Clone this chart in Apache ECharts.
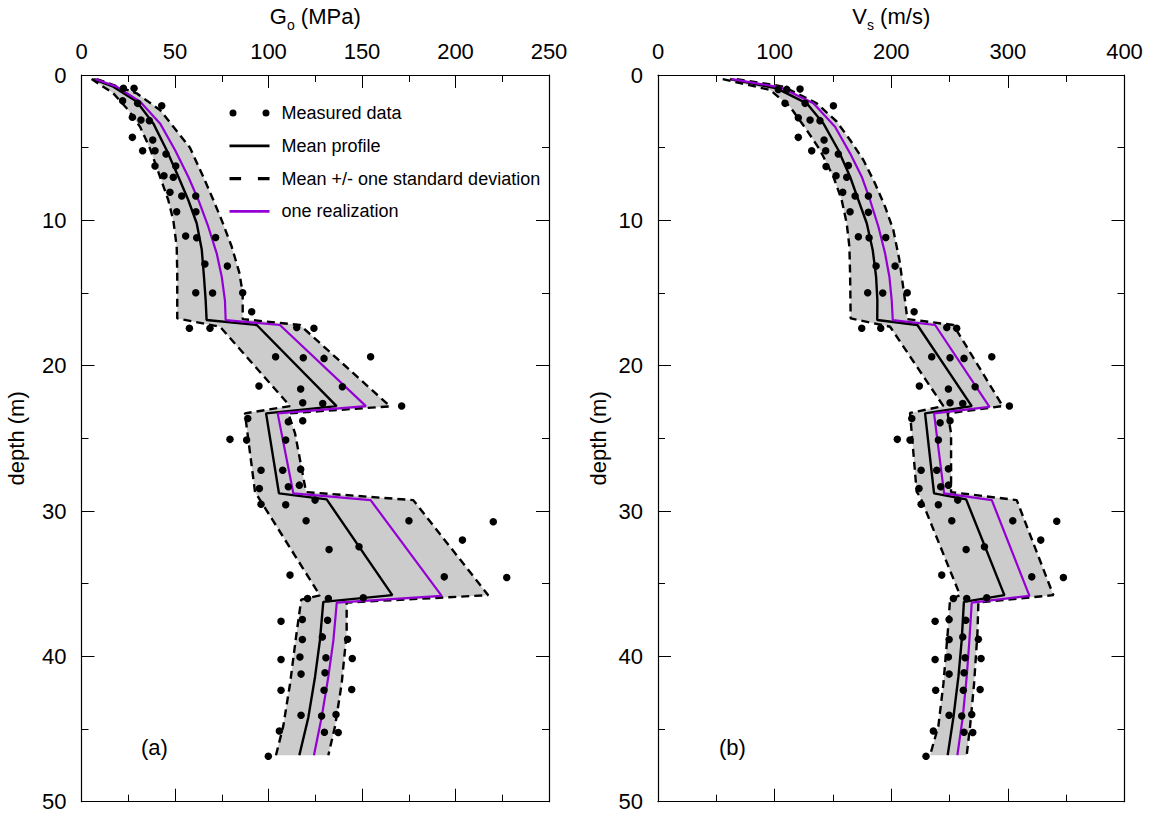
<!DOCTYPE html>
<html><head><meta charset="utf-8">
<script src="https://cdn.jsdelivr.net/npm/echarts@6/dist/echarts.min.js"></script>
<style>html,body{margin:0;padding:0;background:#fff}#c{width:1151px;height:814px}</style>
</head><body><div id="c"></div>
<script>
// ---------- Panel (a): G_o (MPa) vs depth (m) ----------
const goMean = [[6.3,0.28],[17.0,0.8],[29.5,1.83],[38.4,3.33],[45.5,5.16],[51.8,7.0],[57.1,8.6],[61.6,10.2],[64.3,12.0],[65.5,13.9],[66.4,15.5],[66.9,16.86],
  [93.7,17.2],[136.4,22.78],[98.7,23.28],[105.6,28.79],[131.1,29.2],[166.2,35.79],
  [129.3,36.25],[127.5,38.9],[124.9,41.4],[121.3,44.2],[116.5,46.8]];
const goRealization = [[7.2,0.28],[18.8,0.8],[31.3,1.83],[42.0,3.33],[50.0,5.16],[57.1,7.0],[62.5,8.6],[67.8,10.44],[72.3,12.27],[75.0,13.88],[76.7,15.5],[77.1,16.86],
  [106.1,17.2],[152.1,22.78],[104.9,23.28],[113.3,28.79],[154.6,29.25],[192.6,35.84],
  [136.5,36.3],[134.7,38.9],[132.0,41.4],[128.4,44.2],[124.3,46.8]];
const goLower = [[5.4,0.28],[17.0,1.26],[25.0,2.41],[31.3,3.56],[36.6,5.05],[42.0,7.0],[46.4,8.6],[49.1,10.0],[50.9,11.8],[51.2,13.6],[51.2,16.75],
  [74.1,17.32],[111.5,22.78],[87.4,23.28],[92.8,28.7],[93.3,28.8],[127.5,35.8],
  [117.5,36.1],[115.0,38.4],[111.5,41.9],[107.9,44.8],[104.0,46.8]];
const goUpper = [[8.1,0.28],[29.5,1.26],[42.0,2.41],[58.0,5.0],[65.1,7.0],[70.5,8.6],[75.0,10.0],[80.3,11.8],[84.4,13.6],[86.2,15.0],[86.2,16.8],
  [116.8,17.2],[165.0,22.8],[110.6,23.28],[114.2,24.66],[120.1,28.7],[177.4,29.25],[217.5,35.79],
  [141.8,36.3],[141.8,38.4],[139.1,41.9],[135.6,44.8],[132.0,46.8]];
const goMeasured = [[22.4,0.92],[28.1,0.92],[22.0,1.77],[30.0,1.95],[42.9,2.11],[27.2,2.91],[31.8,3.1],[36.3,3.14],[27.2,4.29],[38.1,4.47],
  [32.7,5.21],[39.3,5.21],[45.2,5.44],[39.3,6.26],[50.4,6.26],[44.1,6.93],[49.1,7.04],[47.3,8.07],[53.6,8.33],[61.1,8.33],
  [50.9,9.41],[61.2,9.41],[55.7,11.08],[61.6,11.2],[71.7,11.18],[66.0,13.0],[78.0,13.15],[61.1,14.98],[70.1,15.0],[86.2,14.98],[91.0,16.29],
  [57.7,17.43],[68.7,17.43],[115.1,17.37],[124.3,17.43],[103.8,19.39],[118.6,19.45],[129.7,19.5],[154.6,19.39],[94.9,21.4],[117.2,21.61],
  [139.5,21.45],[118.3,22.55],[129.0,22.6],[171.2,22.78],
  [88.9,23.63],[110.6,23.86],[118.3,23.79],[79.4,25.07],[88.3,25.12],[109.2,25.12],[96.0,27.19],[107.6,27.19],[117.2,27.12],[95.1,28.45],[110.6,28.33],[116.5,28.22],
  [96.0,29.53],[109.2,29.57],[124.9,29.25],[120.1,30.67],[175.1,30.67],[220.2,30.74],[203.7,32.0],[132.4,32.65],[148.4,32.46],[111.5,34.41],[194.0,34.53],[227.4,34.58],
  [120.9,36.02],[132.0,36.02],[150.7,35.97],
  [106.7,37.58],[118.1,37.46],[131.6,37.51],[118.1,38.84],[128.8,38.66],[142.3,38.82],[106.7,40.22],[116.8,40.04],[130.7,40.1],[144.8,40.15],
  [117.4,41.22],[130.2,41.13],[106.7,42.33],[129.7,42.33],[144.5,42.28],[117.4,44.05],[128.4,44.1],[136.1,44.0],[105.8,45.13],[129.9,45.22],[137.3,45.24],[99.9,46.87]];

// ---------- Panel (b): V_s (m/s) vs depth (m) ----------
const vsMean = [[61.7,0.28],[101.8,0.92],[127.5,1.95],[141.8,3.33],[154.6,5.16],[164.7,7.0],[171.8,8.6],[179.0,10.2],[184.1,12.04],[187.0,13.88],[188.1,15.5],[188.0,16.86],
  [222.4,17.2],[269.0,22.78],[229.0,23.28],[236.7,28.79],[264.2,29.2],[297.0,35.79],
  [262.3,36.25],[260.4,38.9],[257.6,41.4],[253.3,44.2],[248.4,46.8]];
const vsRealization = [[63.2,0.28],[104.7,0.85],[133.2,1.95],[151.8,3.56],[164.7,5.39],[174.7,7.0],[181.8,8.6],[189.0,10.44],[194.7,12.27],[198.4,13.88],[200.4,15.5],[201.3,16.86],
  [237.6,17.2],[284.2,22.83],[236.7,23.28],[245.3,28.79],[286.2,29.25],[318.5,35.84],
  [269.0,36.3],[267.0,38.9],[264.7,41.4],[261.3,44.2],[256.7,46.8]];
const vsLower = [[55.5,0.28],[96.1,1.03],[113.2,2.18],[127.5,3.79],[138.9,5.16],[150.4,7.0],[157.5,8.6],[161.8,10.2],[164.1,11.81],[164.7,13.65],[165.2,16.75],
  [199.0,17.32],[244.7,22.78],[216.1,23.25],[221.8,28.68],[224.7,29.0],[259.0,35.79],
  [250.4,36.1],[248.4,38.4],[244.7,41.9],[240.4,44.8],[233.3,46.8]];
const vsUpper = [[67.5,0.28],[107.5,0.8],[136.1,1.95],[153.2,3.2],[164.7,4.47],[176.1,5.85],[186.1,7.46],[194.7,9.06],[201.8,10.67],[207.0,12.73],[211.8,15.5],[213.8,16.8],
  [253.3,17.2],[295.6,22.78],[248.4,23.28],[251.3,24.66],[251.3,28.7],[307.6,29.25],[339.0,35.79],
  [274.7,36.3],[273.9,38.4],[271.0,41.9],[267.6,44.8],[264.7,46.8]];
const vsMeasured = [[103.2,0.99],[110.4,0.99],[121.8,0.96],[108.9,1.95],[126.1,1.95],[150.4,2.11],[120.3,2.94],[130.4,3.1],[138.9,3.14],[120.3,4.29],[142.4,4.47],
  [131.8,5.21],[143.8,5.21],[154.6,5.44],[144.1,6.3],[163.2,6.23],[152.7,6.93],[161.8,7.04],[158.4,8.07],[169.0,8.33],[180.4,8.33],
  [164.7,9.41],[180.4,9.45],[171.8,11.13],[181.0,11.2],[195.3,11.18],[187.0,13.15],[203.3,13.15],[179.8,14.98],[192.7,15.0],[213.7,14.98],[219.6,16.29],
  [174.7,17.43],[191.0,17.43],[247.6,17.37],[256.1,17.43],[234.7,19.39],[250.4,19.45],[262.4,19.5],[286.2,19.39],[224.1,21.4],[249.0,21.61],
  [271.9,21.45],[250.4,22.55],[261.3,22.6],[301.3,22.78],
  [217.6,23.63],[241.9,23.93],[250.4,23.79],[205.2,25.07],[216.1,25.12],[240.4,25.12],[225.6,27.19],[239.0,27.19],[249.0,27.1],[223.8,28.45],[242.4,28.33],[249.0,28.22],
  [225.6,29.53],[240.4,29.57],[257.0,29.25],[251.9,30.67],[304.2,30.67],[341.9,30.7],[328.2,32.0],[264.2,32.65],[279.9,32.46],[243.3,34.41],[320.5,34.53],[347.6,34.58],
  [253.3,36.02],[264.7,36.02],[281.9,35.97],
  [237.6,37.58],[249.6,37.46],[263.9,37.51],[249.6,38.84],[261.3,38.66],[274.7,38.82],[237.6,40.22],[249.0,40.04],[263.3,40.1],[277.0,40.15],
  [249.6,41.22],[262.4,41.13],[238.1,42.33],[261.8,42.33],[276.2,42.28],[249.6,44.05],[260.4,44.1],[269.0,44.0],[236.1,45.13],[262.4,45.22],[269.9,45.24],[229.8,46.87]];

// ---------- Axis scales & labels ----------
const goScale = {min: 0, max: 250, interval: 50};
const vsScale = {min: 0, max: 400, interval: 100};
const depthScale = {min: 0, max: 50, interval: 10};
const goTitle = '{n|G}{s|o}{n| (MPa)}';
const vsTitle = '{n|V}{s|s}{n| (m/s)}';
const depthTitle = 'depth (m)';
const panelLabels = ['(a)', '(b)'];

const FONT = "'Liberation Sans', Arial, Helvetica, sans-serif";
const NAMES = {data: 'Measured data', mean: 'Mean profile', sd: 'Mean +/- one standard deviation', real: 'one realization'};
const PURPLE = '#9400d3';
const BAND = '#cccccc';

const tick = {show: true, inside: true, length: 13, lineStyle: {color: '#000', width: 1}};
const minor = {show: true, splitNumber: 2, length: 7, lineStyle: {color: '#000', width: 1}};
const aLine = {show: true, onZero: false, lineStyle: {color: '#000', width: 1.2}};
const titleRich = {
  n: {fontSize: 22, lineHeight: 27, verticalAlign: 'top', fontFamily: FONT, color: '#000'},
  s: {fontSize: 14, lineHeight: 14, verticalAlign: 'bottom', fontFamily: FONT, color: '#000'}
};

function xAx(grid, pos, scale, labels, name) {
  const a = Object.assign({type: 'value', gridIndex: grid, position: pos}, scale, {
    axisLine: aLine, axisTick: tick, minorTick: minor, splitLine: {show: false},
    axisLabel: {show: labels, fontSize: 22, color: '#000', fontFamily: FONT, margin: 13}
  });
  if (name) {
    a.name = name; a.nameLocation = 'middle'; a.nameGap = 43;
    a.nameTextStyle = {fontSize: 22, color: '#000', fontFamily: FONT, rich: titleRich};
  }
  return a;
}
function yAx(grid, pos, labels, name, gap) {
  const a = Object.assign({type: 'value', gridIndex: grid, position: pos, inverse: true}, depthScale, {
    axisLine: aLine, axisTick: tick, minorTick: minor, splitLine: {show: false},
    axisLabel: {show: labels, fontSize: 22, color: '#000', fontFamily: FONT, margin: 15}
  });
  if (name) {
    a.name = name; a.nameLocation = 'middle'; a.nameGap = gap;
    a.nameTextStyle = {fontSize: 22, color: '#000', fontFamily: FONT};
  }
  return a;
}

function band(upper, lower, idx) {
  return {
    type: 'custom', xAxisIndex: idx, yAxisIndex: idx, z: 1, silent: true, clip: false,
    data: [upper[0]],
    renderItem: function (params, api) {
      const pts = upper.map(p => api.coord(p)).concat(lower.slice().reverse().map(p => api.coord(p)));
      return {type: 'polygon', shape: {points: pts}, style: {fill: BAND, stroke: null}};
    }
  };
}
function line(name, data, idx, color, width, dash, z) {
  return {
    type: 'line', name: name, xAxisIndex: idx, yAxisIndex: idx, data: data, symbol: 'none',
    lineStyle: {color: color, width: width, type: dash || 'solid'}, itemStyle: {color: color},
    z: z, silent: true
  };
}
function dots(data, idx) {
  return {
    type: 'scatter', name: NAMES.data, xAxisIndex: idx, yAxisIndex: idx, data: data,
    symbol: 'circle', symbolSize: 7.5, itemStyle: {color: '#000', opacity: 1}, z: 6, silent: true
  };
}

function panel(upper, lower, mean, real, meas, idx) {
  return [
    band(upper, lower, idx),
    line(NAMES.sd, lower, idx, '#000', 2.4, [8, 5], 3),
    line(NAMES.sd, upper, idx, '#000', 2.4, [8, 5], 3),
    line(NAMES.mean, mean, idx, '#000', 2.4, null, 4),
    line(NAMES.real, real, idx, PURPLE, 2.2, null, 5),
    dots(meas, idx)
  ];
}

const chart = echarts.init(document.getElementById('c'), null, {renderer: 'svg', width: 1151, height: 814});
chart.setOption({
  animation: false,
  backgroundColor: '#fff',
  textStyle: {fontFamily: FONT},
  grid: [
    {left: 81.5, top: 75, width: 467.5, height: 726.7},
    {left: 658, top: 75, width: 466.5, height: 726.7}
  ],
  xAxis: [
    xAx(0, 'top', goScale, true, goTitle),
    xAx(0, 'bottom', goScale, false, null),
    xAx(1, 'top', vsScale, true, vsTitle),
    xAx(1, 'bottom', vsScale, false, null)
  ],
  yAxis: [
    yAx(0, 'left', true, depthTitle, 54),
    yAx(0, 'right', false, null, 0),
    yAx(1, 'left', true, depthTitle, 49),
    yAx(1, 'right', false, null, 0)
  ],
  legend: {
    orient: 'vertical', left: 229.5, top: 103, padding: 0, itemWidth: 40, itemHeight: 7, itemGap: 12.8,
    selectedMode: false,
    textStyle: {fontSize: 18, color: '#000', fontFamily: FONT, lineHeight: 20, padding: [0, 0, 0, 7]},
    data: [
      {name: NAMES.data, icon: 'path://M0,3.5a3.5,3.5 0 1,0 7,0a3.5,3.5 0 1,0 -7,0zM33,3.5a3.5,3.5 0 1,0 7,0a3.5,3.5 0 1,0 -7,0z'},
      {name: NAMES.mean, icon: 'path://M3,0h34v2.4h-34z'},
      {name: NAMES.sd, icon: 'path://M3,0h9v2.4h-9zM25,0h9v2.4h-9z'},
      {name: NAMES.real, icon: 'path://M3,0h34v2.4h-34z'}
    ]
  },
  graphic: [
    {type: 'text', left: 141, top: 736, style: {text: panelLabels[0], font: '22px ' + FONT, fill: '#000'}},
    {type: 'text', left: 719, top: 736, style: {text: panelLabels[1], font: '22px ' + FONT, fill: '#000'}}
  ],
  series: [].concat(
    panel(goUpper, goLower, goMean, goRealization, goMeasured, 0),
    panel(vsUpper, vsLower, vsMean, vsRealization, vsMeasured, 2)
  )
});
</script>
</body></html>
